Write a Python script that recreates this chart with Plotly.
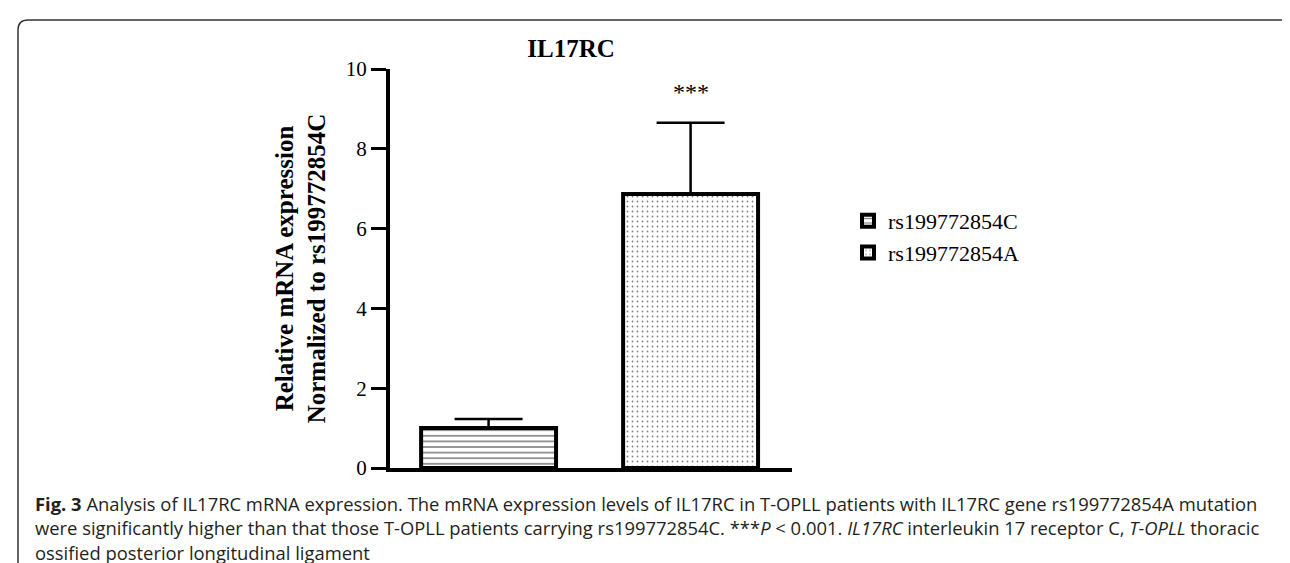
import plotly.graph_objects as go

# ---- data ----
categories = ["rs199772854C", "rs199772854A"]
means = [1.0, 6.87]
sem = [0.23, 1.78]
significance = ["", "***"]
patterns = ["-", "."]
y_ticks = [0, 2, 4, 6, 8, 10]

# ---- layout geometry (pixels) ----
W, H = 1290, 563
L, R, T, B = 382, 1290 - 784, 61, 563 - 460
PW, PH = W - L - R, H - T - B


def px(x):
    return (x - L) / PW


def py(y):
    return (H - B - y) / PH


SERIF = "Liberation Serif, Times New Roman, serif"
fig = go.Figure()

for i, cat in enumerate(categories):
    fig.add_trace(go.Bar(
        x=[i], y=[means[i]], name=cat, width=0.668,
        marker=dict(
            color="white",
            line=dict(color="black", width=4),
            pattern=dict(shape=patterns[i], fgcolor="black", bgcolor="white",
                         size=5.6 if patterns[i] == "-" else 5,
                         solidity=0.28 if patterns[i] == "-" else 0.1),
        ),
        error_y=dict(type="data", symmetric=False, array=[sem[i]], arrayminus=[0],
                     color="black", thickness=2.5, width=34),
    ))
    if significance[i]:
        fig.add_annotation(x=i, y=means[i] + sem[i] + 0.77, xref="x", yref="y",
                           text=significance[i], showarrow=False,
                           font=dict(family=SERIF, size=24, color="black"))

fig.update_layout(
    width=W, height=H,
    margin=dict(l=L, r=R, t=T, b=B, autoexpand=False),
    paper_bgcolor="white", plot_bgcolor="white",
    barmode="overlay",
    showlegend=True,
    legend=dict(x=px(840), y=py(192), xanchor="left", yanchor="top",
                font=dict(family=SERIF, size=22, color="black"),
                bgcolor="rgba(0,0,0,0)", tracegroupgap=4),
    title=dict(text="<b>IL17RC</b>", x=px(563), xref="paper", xanchor="center",
               y=1 - 40 / H, yanchor="middle",
               font=dict(family=SERIF, size=25, color="black")),
    xaxis=dict(range=[-0.488, 1.502], showline=True, linewidth=4, linecolor="black",
               showticklabels=False, ticks="", showgrid=False, zeroline=False,
               automargin=False),
    yaxis=dict(range=[0, 10], tickvals=y_ticks, showline=True, linewidth=4,
               linecolor="black", ticks="outside", ticklen=15, tickwidth=3,
               tickcolor="black", showgrid=False, zeroline=False,
               tickfont=dict(family=SERIF, size=21, color="black"),
               title=dict(text="<b>Relative mRNA expression<br>Normalized to rs199772854C</b>",
                          font=dict(family=SERIF, size=25, color="black"), standoff=14),
               automargin=False),
)

# caption
CAP = "Open Sans, Liberation Sans, sans-serif"
caption_lines = [
    "<b>Fig. 3</b> Analysis of IL17RC mRNA expression. The mRNA expression levels of IL17RC in T-OPLL patients with IL17RC gene rs199772854A mutation",
    "were significantly higher than that those T-OPLL patients carrying rs199772854C. ***<i>P</i> &lt; 0.001. <i>IL17RC</i> interleukin 17 receptor C, <i>T-OPLL</i> thoracic",
    "ossified posterior longitudinal ligament",
]
for k, line in enumerate(caption_lines):
    fig.add_annotation(x=px(25), y=py(495 + 24.5 * k), xref="paper", yref="paper",
                       xanchor="left", yanchor="middle", showarrow=False, align="left",
                       text=line, font=dict(family=CAP, size=18.4, color="#231f20"))

# frame of the figure box
r = 10
frame = (f"M {px(10)} {py(563)} L {px(10)} {py(12 + r)} "
         f"Q {px(10)} {py(12)} {px(10 + r)} {py(12)} "
         f"L {px(1286 - r)} {py(12)} Q {px(1286)} {py(12)} {px(1286)} {py(12 + r)} "
         f"L {px(1286)} {py(24)}")
fig.add_shape(type="path", path=frame, xref="paper", yref="paper",
              line=dict(color="#333333", width=1.5))

fig.write_html("out.html")
